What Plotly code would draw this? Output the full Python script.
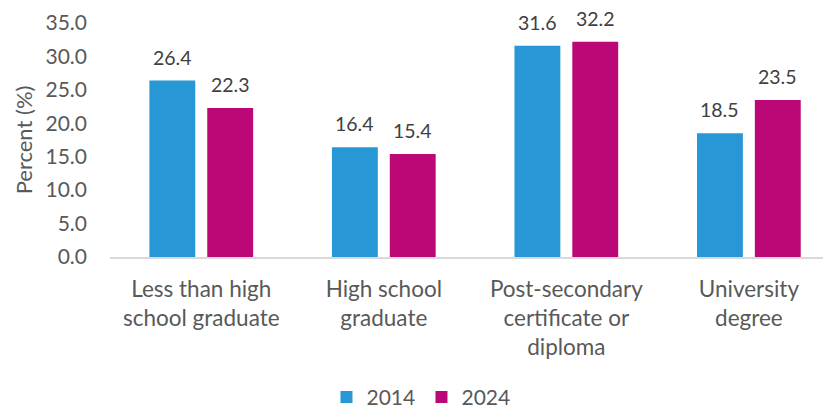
import plotly.graph_objects as go

categories = ["Less than high<br>school graduate", "High school<br>graduate",
              "Post-secondary<br>certificate or<br>diploma", "University<br>degree"]
series_names = ["2014", "2024"]
values_2014 = [26.4, 16.4, 31.6, 18.5]
values_2024 = [22.3, 15.4, 32.2, 23.5]
colors = ["#2798D5", "#BC0877"]
y_ticks = [0, 5, 10, 15, 20, 25, 30, 35]

FONT = "Lato"
TXT = "#595959"

fig = go.Figure()
for name, vals, col in zip(series_names, [values_2014, values_2024], colors):
    fig.add_trace(go.Bar(x=categories, y=vals, name=name, marker_color=col,
                         marker_line_width=0))

for i, (vals, shift) in enumerate(zip([values_2014, values_2024], [-29, 29])):
    for c, v in zip(categories, vals):
        fig.add_annotation(x=c, y=v, text=f"{v:.1f}", showarrow=False,
                           xshift=shift, yshift=10, yanchor="bottom",
                           font=dict(family=FONT, size=19.5, color="#404040"))

# page body has an 8px default margin, so the figure is sized 823x400
fig.update_layout(
    width=823, height=400,
    margin=dict(l=102, r=0, t=15, b=151, autoexpand=False),
    paper_bgcolor="white", plot_bgcolor="white",
    barmode="group", bargap=0.366, bargroupgap=0.207,
    font=dict(family=FONT, size=22, color=TXT),
    showlegend=True,
    legend=dict(orientation="h", x=0.432, xanchor="center", y=-0.60, yanchor="middle",
                font=dict(family=FONT, size=21, color=TXT), itemwidth=30,
                entrywidth=50, entrywidthmode="pixels",
                traceorder="normal"),
)
fig.update_xaxes(range=[-0.5, 3.45], showline=True, linecolor="#D9D9D9", linewidth=1.5,
                 ticks="", tickfont=dict(family=FONT, size=22.5, color=TXT),
                 ticklabelstandoff=11, automargin=False,
                 showgrid=False, zeroline=False)
fig.update_yaxes(range=[0, 35], tickvals=y_ticks, tickformat=".1f", showgrid=False,
                 zeroline=False, showline=False, ticks="", ticklabelstandoff=22,
                 automargin=False,
                 tickfont=dict(family=FONT, size=21, color=TXT),
                 title=dict(text="Percent (%)", standoff=6,
                            font=dict(family=FONT, size=22, color=TXT)))

fig.write_html("out.html")
